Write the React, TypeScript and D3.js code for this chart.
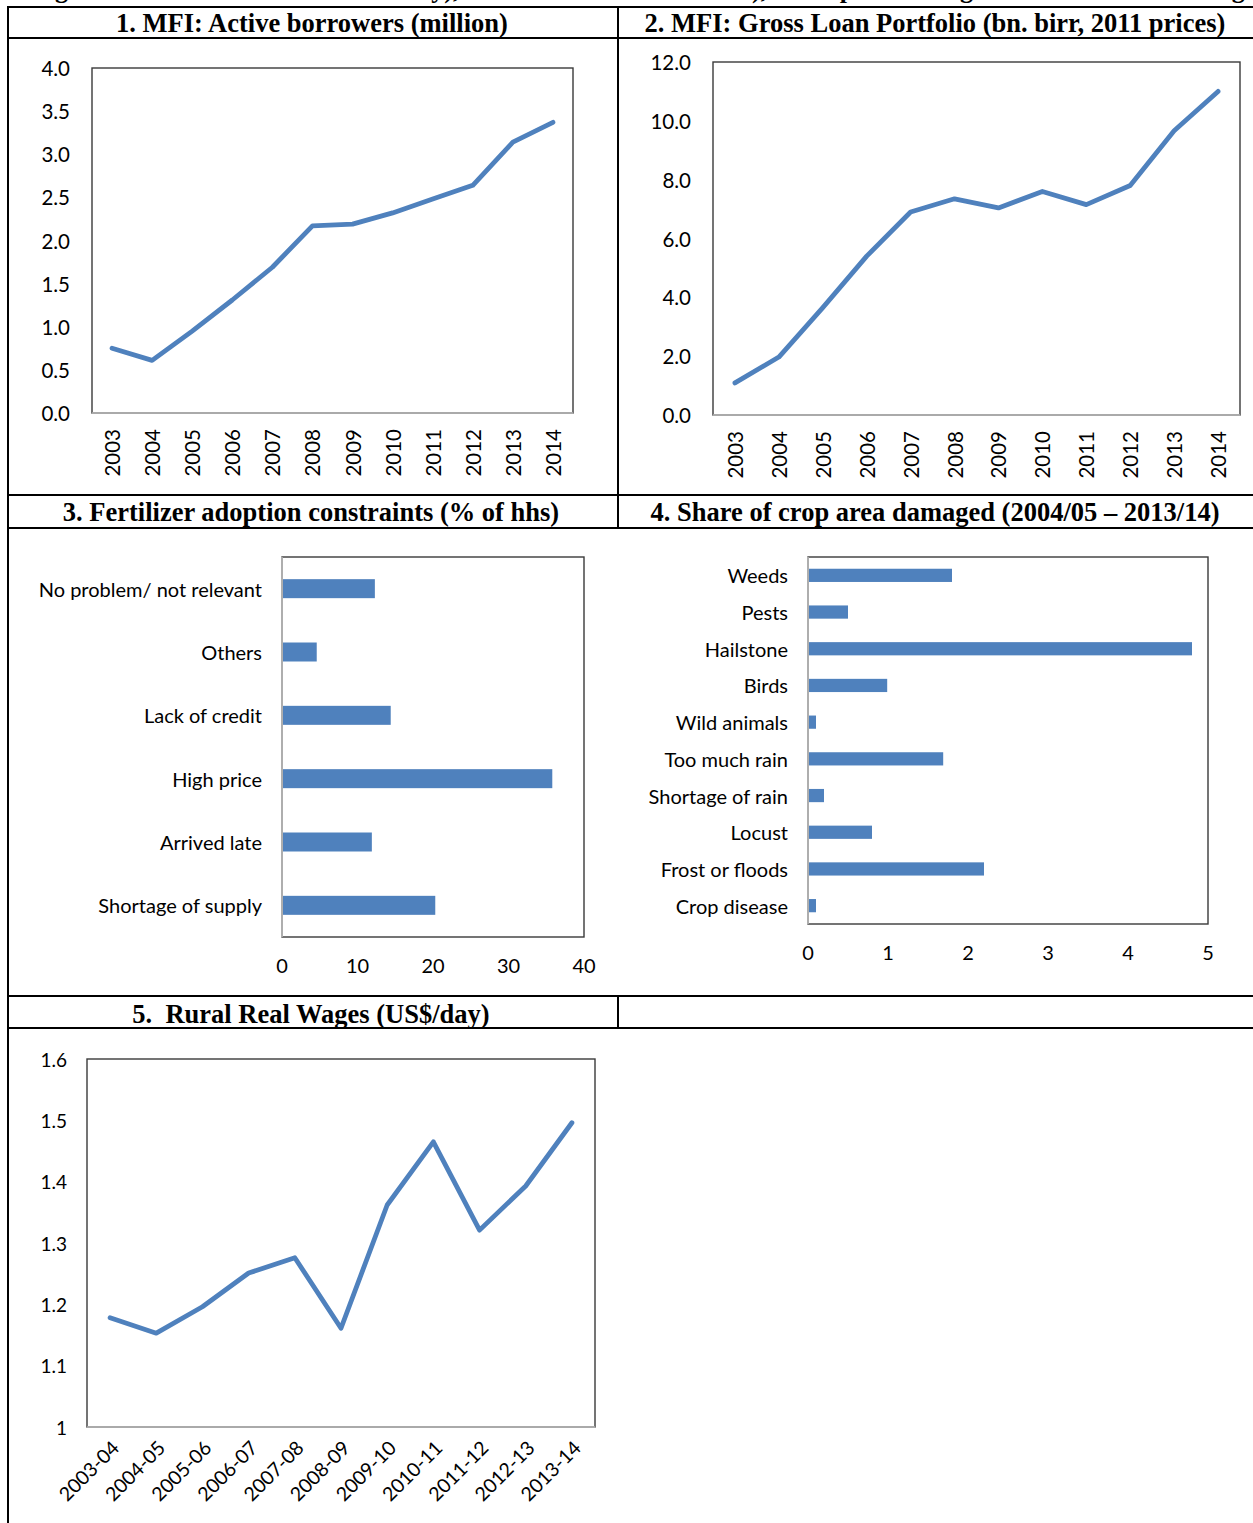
import React from 'react';
import * as d3 from 'd3';

// ---------- data ----------
const years = ['2003', '2004', '2005', '2006', '2007', '2008', '2009', '2010', '2011', '2012', '2013', '2014'];
const activeBorrowers = [0.75, 0.61, 0.95, 1.31, 1.69, 2.17, 2.19, 2.32, 2.48, 2.64, 3.14, 3.37];
const borrowerTicks = [0, 0.5, 1, 1.5, 2, 2.5, 3, 3.5, 4];
const loanPortfolio = [1.09, 1.97, 3.65, 5.4, 6.9, 7.35, 7.04, 7.6, 7.15, 7.8, 9.66, 11.0];
const loanTicks = [0, 2, 4, 6, 8, 10, 12];

const constraintCats = ['No problem/ not relevant', 'Others', 'Lack of credit', 'High price', 'Arrived late', 'Shortage of supply'];
const constraintValues = [12.3, 4.6, 14.4, 35.8, 11.9, 20.3];
const constraintTicks = [0, 10, 20, 30, 40];

const damageCats = ['Weeds', 'Pests', 'Hailstone', 'Birds', 'Wild animals', 'Too much rain', 'Shortage of rain', 'Locust', 'Frost or floods', 'Crop disease'];
const damageValues = [1.8, 0.5, 4.8, 0.99, 0.1, 1.69, 0.2, 0.8, 2.2, 0.1];
const damageTicks = [0, 1, 2, 3, 4, 5];

const wageYears = ['2003-04', '2004-05', '2005-06', '2006-07', '2007-08', '2008-09', '2009-10', '2010-11', '2011-12', '2012-13', '2013-14'];
const wages = [1.178, 1.153, 1.196, 1.251, 1.276, 1.161, 1.362, 1.465, 1.321, 1.393, 1.496];
const wageTicks = [1, 1.1, 1.2, 1.3, 1.4, 1.5, 1.6];

const panelTitles = [
  '1. MFI: Active borrowers (million)',
  '2. MFI: Gross Loan Portfolio (bn. birr, 2011 prices)',
  '3. Fertilizer adoption constraints (% of hhs)',
  '4. Share of crop area damaged (2004/05 \u2013 2013/14)',
  '5.  Rural Real Wages (US$/day)',
];

// ---------- styles ----------
const BLUE = '#4F81BD';
const SANS = 'Lato, "Open Sans", sans-serif';
const SERIF = '"Liberation Serif", "Times New Roman", serif';
const FRAME = '#3a3a3a';
const AXIS = '#bdbdbd';

function LineChart({ box, cats, values, ticks, fmt, yLabelEnd, tickFont, catFont, rot }: any) {
  const x = d3.scalePoint<string>().domain(cats).range([box.l, box.r]).padding(0.5);
  const y = d3.scaleLinear().domain([ticks[0], ticks[ticks.length - 1]]).range([box.b, box.t]);
  const line = d3.line<number>().x((_, i) => x(cats[i]) as number).y((d) => y(d));
  return (
    <g>
      <rect x={box.l} y={box.t} width={box.r - box.l} height={box.b - box.t} fill="none" stroke={FRAME} strokeWidth={1.4} />
      <line x1={box.l} x2={box.r} y1={box.b} y2={box.b} stroke={AXIS} strokeWidth={1.6} />
      {ticks.map((t: number) => (
        <text key={t} x={yLabelEnd} y={y(t)} textAnchor="end" dominantBaseline="central" fontFamily={SANS} fontSize={tickFont} fill="#000">
          {fmt(t)}
        </text>
      ))}
      {cats.map((c: string) =>
        rot === -90 ? (
          <text key={c} transform={`translate(${x(c)},${box.b + 16}) rotate(-90)`} textAnchor="end" dominantBaseline="central" fontFamily={SANS} fontSize={catFont} fill="#000">
            {c}
          </text>
        ) : (
          <text key={c} transform={`translate(${(x(c) as number) + 5},${box.b + 17}) rotate(-45)`} textAnchor="end" dominantBaseline="central" fontFamily={SANS} fontSize={catFont} fill="#000">
            {c}
          </text>
        )
      )}
      <path d={line(values) || ''} fill="none" stroke={BLUE} strokeWidth={4.8} strokeLinejoin="round" strokeLinecap="round" />
    </g>
  );
}

function BarChart({ box, cats, values, ticks, labelEnd, tickY, pad, font }: any) {
  const x = d3.scaleLinear().domain([ticks[0], ticks[ticks.length - 1]]).range([box.l, box.r]);
  const y = d3.scaleBand<string>().domain(cats).range([box.t, box.b]).paddingInner(pad).paddingOuter(pad / 2);
  return (
    <g>
      <rect x={box.l} y={box.t} width={box.r - box.l} height={box.b - box.t} fill="none" stroke={FRAME} strokeWidth={1.4} />
      <line x1={box.l} x2={box.l} y1={box.t} y2={box.b} stroke={AXIS} strokeWidth={1.6} />
      {cats.map((c: string, i: number) => (
        <g key={c}>
          <rect x={x(0) + 1} y={y(c)} width={x(values[i]) - x(0) - 1} height={y.bandwidth()} fill={BLUE} />
          <text x={labelEnd} y={(y(c) as number) + y.bandwidth() / 2} textAnchor="end" dominantBaseline="central" fontFamily={SANS} fontSize={font} fill="#000">
            {c}
          </text>
        </g>
      ))}
      {ticks.map((t: number) => (
        <text key={t} x={x(t)} y={tickY} textAnchor="middle" dominantBaseline="central" fontFamily={SANS} fontSize={font} fill="#000">
          {t}
        </text>
      ))}
    </g>
  );
}

export default function App() {
  const W = 1253;
  const H = 1523;
  const L = 8;
  const MID = 618;
  const R = 1253;
  const hLines = [7, 38, 495, 528, 996, 1028];
  const titleStyle = { fontFamily: SERIF, fontWeight: 700, fontSize: 26.5 } as any;

  return (
    <svg width={W} height={H} style={{ position: 'absolute', left: 0, top: 0, background: '#fff' }}>
      <rect x={0} y={0} width={W} height={H} fill="#fff" />
      {/* caption line above the table, cut off by the page top as in the source */}
      <text y={-2} fontFamily={SERIF} fontWeight={700} fontSize={26} fill="#000">
        <tspan x={32}>Figure</tspan>
        <tspan x={362}>activity),</tspan>
        <tspan x={752}>),</tspan>
        <tspan x={818}>input</tspan>
        <tspan x={898}>damage</tspan>
        <tspan x={1200}>wages</tspan>
      </text>

      {/* table rules */}
      {hLines.map((y) => (
        <line key={y} x1={L - 1} x2={R} y1={y} y2={y} stroke="#000" strokeWidth={2} />
      ))}
      <line x1={L} x2={L} y1={6} y2={H} stroke="#000" strokeWidth={2} />
      <line x1={MID} x2={MID} y1={6} y2={528} stroke="#000" strokeWidth={2} />
      <line x1={MID} x2={MID} y1={995} y2={1028} stroke="#000" strokeWidth={2} />

      {/* titles */}
      <text x={312} y={32} textAnchor="middle" {...titleStyle}>{panelTitles[0]}</text>
      <text x={935} y={32} textAnchor="middle" {...titleStyle}>{panelTitles[1]}</text>
      <text x={311} y={521} textAnchor="middle" {...titleStyle}>{panelTitles[2]}</text>
      <text x={935} y={521} textAnchor="middle" {...titleStyle}>{panelTitles[3]}</text>
      <text x={311} y={1023} textAnchor="middle" style={{ whiteSpace: 'pre' }} {...titleStyle}>{panelTitles[4]}</text>

      <LineChart
        box={{ l: 92, r: 573, t: 68, b: 413 }}
        cats={years}
        values={activeBorrowers}
        ticks={borrowerTicks}
        fmt={(v: number) => v.toFixed(1)}
        yLabelEnd={70}
        tickFont={20.5}
        catFont={20.5}
        rot={-90}
      />
      <LineChart
        box={{ l: 713, r: 1240, t: 62, b: 415 }}
        cats={years}
        values={loanPortfolio}
        ticks={loanTicks}
        fmt={(v: number) => v.toFixed(1)}
        yLabelEnd={691}
        tickFont={20.5}
        catFont={20.5}
        rot={-90}
      />
      <BarChart
        box={{ l: 282, r: 584, t: 557, b: 937 }}
        cats={constraintCats}
        values={constraintValues}
        ticks={constraintTicks}
        labelEnd={262}
        tickY={965}
        pad={0.7}
        font={20}
      />
      <BarChart
        box={{ l: 808, r: 1208, t: 557, b: 924 }}
        cats={damageCats}
        values={damageValues}
        ticks={damageTicks}
        labelEnd={788}
        tickY={952}
        pad={0.64}
        font={20}
      />
      <LineChart
        box={{ l: 87, r: 595, t: 1059, b: 1427 }}
        cats={wageYears}
        values={wages}
        ticks={wageTicks}
        fmt={(v: number) => String(+v.toFixed(1))}
        yLabelEnd={67}
        tickFont={19}
        catFont={19.5}
        rot={-45}
      />
    </svg>
  );
}
